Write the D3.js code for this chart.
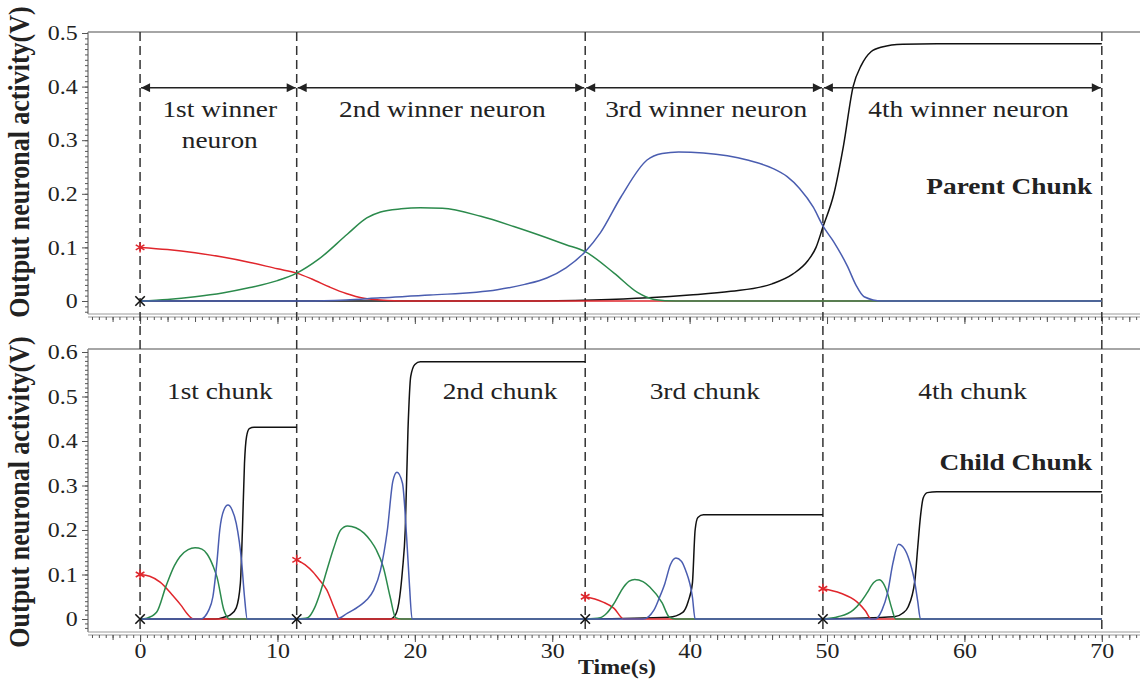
<!DOCTYPE html>
<html>
<head>
<meta charset="utf-8">
<script src="https://cdn.jsdelivr.net/npm/d3@7"></script>
<style>
	body { margin: 0; background: #fff; }
	svg text { font-family: "Liberation Serif", "Times New Roman", serif; fill: #222; }
</style>
</head>
<body>
<div id="chart"></div>
<script>
// chunk boundaries (s)
var boundaries = [0, 11.4, 32.4, 49.7, 70];

// parent chunk traces [time, volts]
var parentRed = [[0, 0.1], [2, 0.096], [4, 0.09], [6, 0.082], [8, 0.072], [10, 0.06], [11.4, 0.052], [12.5, 0.041], [13.8, 0.026], [15, 0.014], [16.3, 0.005], [18, 0.001], [20, 0], [70, 0]];
var parentGreen = [[0, 0], [2, 0.003], [4, 0.008], [6, 0.015], [8, 0.025], [10, 0.038], [11.4, 0.052], [13, 0.078], [15.1, 0.125], [16.5, 0.155], [17.5, 0.166], [19, 0.172], [20.4, 0.174], [22, 0.173], [24.8, 0.158], [27.2, 0.139], [29.6, 0.118], [31, 0.105], [32.4, 0.092], [34.5, 0.052], [36.2, 0.016], [37.4, 0.003], [39, 0], [70, 0]];
var parentBlue = [[0, 0], [12, 0], [15, 0.002], [17.5, 0.006], [21.1, 0.011], [26, 0.021], [28, 0.031], [29.6, 0.043], [31, 0.062], [32.4, 0.092], [33.5, 0.127], [35, 0.194], [36.9, 0.263], [38, 0.275], [39.2, 0.278], [41, 0.276], [44.2, 0.263], [46, 0.248], [47.1, 0.232], [48, 0.21], [49, 0.175], [49.7, 0.14], [50.5, 0.11], [51.5, 0.064], [52.1, 0.03], [52.7, 0.008], [54, 0], [70, 0]];
var parentBlack = [[0, 0], [28, 0], [33, 0.002], [37, 0.006], [40, 0.011], [43, 0.018], [46, 0.032], [47.5, 0.05], [48.6, 0.075], [49.2, 0.1], [49.7, 0.138], [50.5, 0.2], [51.2, 0.29], [51.9, 0.4], [52.5, 0.44], [53.2, 0.465], [54, 0.474], [55.5, 0.479], [58, 0.48], [70, 0.48]];

// child chunk traces, one list per chunk
var childRed = [
	[[0, 0.1], [0.7, 0.096], [1.46, 0.083], [2.4, 0.052], [3, 0.03], [3.4, 0.013], [3.9, 0], [11.4, 0]],
	[[11.4, 0.133], [12, 0.122], [12.6, 0.105], [13.1, 0.086], [13.6, 0.065], [14, 0.035], [14.2, 0.02], [14.5, 0], [32.4, 0]],
	[[32.4, 0.05], [33.1, 0.045], [33.7, 0.038], [34.5, 0.024], [35.2, 0], [49.7, 0]],
	[[49.7, 0.068], [51, 0.058], [52.2, 0.038], [52.8, 0.018], [53.2, 0], [70, 0]]
];
var childGreen = [
	[[0, 0], [0.5, 0.002], [1.2, 0.015], [1.9, 0.075], [2.5, 0.12], [2.9, 0.14], [3.5, 0.156], [4, 0.16], [4.5, 0.157], [4.9, 0.145], [5.3, 0.12], [5.6, 0.094], [6.1, 0.02], [6.5, 0], [11.4, 0]],
	[[11.4, 0], [12.2, 0.003], [12.7, 0.025], [13.1, 0.058], [13.6, 0.11], [14.1, 0.16], [14.6, 0.2], [15.1, 0.209], [15.7, 0.205], [16.3, 0.193], [16.8, 0.175], [17.2, 0.155], [17.7, 0.117], [18.2, 0.05], [18.6, 0.003], [19, 0], [32.4, 0]],
	[[32.4, 0], [33.5, 0.003], [34, 0.014], [34.5, 0.035], [35.2, 0.072], [35.6, 0.085], [36, 0.089], [36.6, 0.084], [37.1, 0.072], [38, 0.036], [38.5, 0.005], [39, 0], [49.7, 0]],
	[[49.7, 0], [50.8, 0.005], [51.9, 0.02], [52.5, 0.04], [52.9, 0.058], [53.4, 0.082], [53.8, 0.088], [54.1, 0.08], [54.4, 0.058], [54.7, 0.025], [55, 0], [70, 0]]
];
var childBlue = [
	[[0, 0], [4.4, 0], [5, 0.02], [5.3, 0.05], [5.6, 0.13], [5.8, 0.2], [6.1, 0.245], [6.4, 0.256], [6.7, 0.245], [7, 0.215], [7.4, 0.126], [7.6, 0.05], [7.8, 0], [11.4, 0]],
	[[11.4, 0], [14.3, 0], [15.1, 0.013], [16, 0.03], [16.5, 0.043], [17, 0.065], [17.5, 0.11], [18, 0.2], [18.4, 0.31], [18.7, 0.33], [19.1, 0.305], [19.4, 0.185], [19.6, 0.08], [19.8, 0], [32.4, 0]],
	[[32.4, 0], [36.6, 0], [37.4, 0.02], [37.8, 0.048], [38.2, 0.08], [38.6, 0.122], [39, 0.137], [39.4, 0.13], [39.7, 0.11], [40.2, 0.05], [40.4, 0], [49.7, 0]],
	[[49.7, 0], [53.5, 0], [54, 0.02], [54.4, 0.058], [54.8, 0.126], [55.2, 0.168], [55.5, 0.163], [55.9, 0.14], [56.4, 0.08], [56.6, 0.04], [56.8, 0], [70, 0]]
];
var childBlack = [
	[[0, 0], [5.5, 0], [6.1, 0.004], [6.6, 0.01], [7, 0.025], [7.3, 0.08], [7.45, 0.2], [7.6, 0.35], [7.75, 0.41], [7.95, 0.428], [8.3, 0.431], [11.4, 0.431]],
	[[11.4, 0], [18.2, 0], [18.6, 0.01], [18.9, 0.05], [19.1, 0.11], [19.3, 0.2], [19.5, 0.425], [19.7, 0.545], [20, 0.572], [20.4, 0.578], [32.4, 0.578]],
	[[32.4, 0], [38.5, 0.004], [39.5, 0.015], [39.9, 0.04], [40.2, 0.08], [40.4, 0.2], [40.6, 0.228], [41, 0.234], [49.7, 0.234]],
	[[49.7, 0], [54.9, 0.005], [55.5, 0.013], [55.9, 0.027], [56.4, 0.088], [56.6, 0.16], [56.8, 0.23], [57, 0.272], [57.3, 0.284], [58, 0.286], [70, 0.286]]
];

// starting values marked at each chunk start
var parentStartRed = [0.1];
var childStartRed = [0.1, 0.133, 0.05, 0.068];

// labels
var winnerLabels = [['1st winner', 'neuron'], ['2nd winner neuron'], ['3rd winner neuron'], ['4th winner neuron']];
var winnerLabelT = [5.8, 22, 41.2, 60.3];
var chunkLabels = ['1st chunk', '2nd chunk', '3rd chunk', '4th chunk'];
var chunkLabelT = [5.8, 26.2, 41.1, 60.6];
var xTickValues = [0, 10, 20, 30, 40, 50, 60, 70];
var yTopTicks = [0, 0.1, 0.2, 0.3, 0.4, 0.5];
var yBottomTicks = [0, 0.1, 0.2, 0.3, 0.4, 0.5, 0.6];

initChart();

function initChart() {
	var width = 1140;
	var height = 680;
	var stretch = 1.14;
	var colors = { red: '#e0262c', green: '#2b8a4c', blue: '#4a5db0', black: '#111' };

	var svg = d3.select('#chart')
		.append('svg')
		.attr('width', width)
		.attr('height', height);

	var xScale = d3.scaleLinear()
		.domain([-3.79, 72.78])
		.range([88, 1140]);

	var panels = [
		{ top: 32, bottom: 314, y: d3.scaleLinear().domain([0, 0.5]).range([301, 33]), ticks: yTopTicks, max: 0.5, labelY: 162 },
		{ top: 349, bottom: 632, y: d3.scaleLinear().domain([0, 0.6]).range([619, 352]), ticks: yBottomTicks, max: 0.6, labelY: 492 }
	];

	function addText(g, str, x, y, anchor, size, bold) {
		return g.append('text')
			.attr('transform', 'translate(' + x + ',' + y + ') scale(' + stretch + ',1)')
			.attr('text-anchor', anchor)
			.style('font-size', size + 'px')
			.style('font-weight', bold ? 'bold' : 'normal')
			.text(str);
	}

	// frames, axes, rulers
	panels.forEach(function(p, idx) {
		var g = svg.append('g');

		g.append('line')
			.attr('x1', 88).attr('x2', width)
			.attr('y1', p.top).attr('y2', p.top)
			.attr('stroke', '#888').attr('stroke-width', 1.5);

		g.append('line')
			.attr('x1', 88).attr('x2', 88)
			.attr('y1', p.top).attr('y2', p.bottom)
			.attr('stroke', '#888').attr('stroke-width', 1.5);

		[p.bottom, p.bottom + 3].forEach(function(yy) {
			g.append('line')
				.attr('x1', 88).attr('x2', width)
				.attr('y1', yy).attr('y2', yy)
				.attr('stroke', '#999').attr('stroke-width', 1.2);
		});

		// x ruler
		var minor = g.append('g')
			.attr('transform', 'translate(0,' + (p.bottom + 3) + ')')
			.call(d3.axisBottom(xScale).tickValues(d3.range(-3.5, 72.6, 0.5)).tickSize(3).tickFormat(''));
		var medium = g.append('g')
			.attr('transform', 'translate(0,' + (p.bottom + 3) + ')')
			.call(d3.axisBottom(xScale).tickValues(d3.range(-2, 72.6, 2)).tickSize(5).tickFormat(''));
		var major = g.append('g')
			.attr('transform', 'translate(0,' + (p.bottom + 3) + ')')
			.call(d3.axisBottom(xScale).tickValues(xTickValues).tickSize(7).tickFormat(idx === 1 ? d3.format('d') : ''));

		[minor, medium, major].forEach(function(a) {
			a.select('.domain').remove();
			a.selectAll('line').attr('stroke', '#555');
		});

		major.selectAll('text')
			.attr('dy', null)
			.attr('y', 23)
			.attr('transform', 'scale(' + stretch + ',1)')
			.style('font-size', '21px')
			.style('font-family', '"Liberation Serif", serif')
			.attr('fill', '#222');

		// y axis
		var yMinor = g.append('g')
			.attr('transform', 'translate(88,0)')
			.call(d3.axisLeft(p.y).tickValues(d3.range(-0.02, p.max + 0.001, 0.01)).tickSize(3).tickFormat(''));
		var yMajor = g.append('g')
			.attr('transform', 'translate(88,0)')
			.call(d3.axisLeft(p.y).tickValues(p.ticks).tickSize(6).tickPadding(3)
				.tickFormat(function(d) { return d === 0 ? '0' : d3.format('.1f')(d); }));

		[yMinor, yMajor].forEach(function(a) {
			a.select('.domain').remove();
			a.selectAll('line').attr('stroke', '#555');
		});

		yMajor.selectAll('text')
			.attr('transform', 'scale(' + stretch + ',1)')
			.style('font-size', '21px')
			.style('font-family', '"Liberation Serif", serif')
			.attr('fill', '#222');

		// y title
		g.append('text')
			.attr('transform', 'translate(29,' + p.labelY + ') rotate(-90) scale(1,' + stretch + ')')
			.attr('text-anchor', 'middle')
			.style('font-size', '26px')
			.style('font-weight', 'bold')
			.text('Output neuronal activity(V)');
	});

	// x title
	addText(svg, 'Time(s)', 617, 674, 'middle', 21, true);

	// chunk boundaries
	svg.selectAll('.boundary')
		.data(boundaries)
		.enter()
		.append('line')
		.attr('class', 'boundary')
		.attr('x1', function(d) { return xScale(d); })
		.attr('x2', function(d) { return xScale(d); })
		.attr('y1', 32)
		.attr('y2', 632)
		.attr('stroke', '#333')
		.attr('stroke-width', 1.5)
		.attr('stroke-dasharray', '9,5');

	var top = panels[0];
	var bottom = panels[1];

	function lineFor(yScale) {
		return d3.line()
			.x(function(d) { return xScale(d[0]); })
			.y(function(d) { return yScale(d[1]); })
			.curve(d3.curveMonotoneX);
	}

	// parent traces
	var topLine = lineFor(top.y);
	[[parentBlack, colors.black], [parentRed, colors.red], [parentGreen, colors.green], [parentBlue, colors.blue]].forEach(function(s) {
		svg.append('path')
			.attr('d', topLine(s[0]))
			.attr('fill', 'none')
			.attr('stroke', s[1])
			.attr('stroke-width', 1.5);
	});

	// child traces
	var bottomLine = lineFor(bottom.y);
	[[childBlack, colors.black], [childRed, colors.red], [childGreen, colors.green], [childBlue, colors.blue]].forEach(function(s) {
		s[0].forEach(function(chunk) {
			svg.append('path')
				.attr('d', bottomLine(chunk))
				.attr('fill', 'none')
				.attr('stroke', s[1])
				.attr('stroke-width', 1.5);
		});
	});

	// start markers
	var asterisk = d3.symbol().type(d3.symbolAsterisk || d3.symbolCross).size(70);
	var times = d3.symbol().type(d3.symbolTimes || d3.symbolCross).size(60);

	function markers(starts, values, yScale) {
		starts.forEach(function(t, i) {
			svg.append('path')
				.attr('d', asterisk())
				.attr('transform', 'translate(' + xScale(t) + ',' + yScale(values[i]) + ')')
				.attr('fill', 'none')
				.attr('stroke', colors.red)
				.attr('stroke-width', 1.5);
			svg.append('path')
				.attr('d', times())
				.attr('transform', 'translate(' + xScale(t) + ',' + yScale(0) + ')')
				.attr('fill', 'none')
				.attr('stroke', colors.black)
				.attr('stroke-width', 1.6);
		});
	}

	markers([boundaries[0]], parentStartRed, top.y);
	markers(boundaries.slice(0, 4), childStartRed, bottom.y);

	// winner arrows
	var defs = svg.append('defs');
	defs.append('marker')
		.attr('id', 'arrow')
		.attr('viewBox', '0 0 10 10')
		.attr('refX', 10)
		.attr('refY', 5)
		.attr('markerWidth', 12)
		.attr('markerHeight', 9)
		.attr('markerUnits', 'userSpaceOnUse')
		.attr('orient', 'auto-start-reverse')
		.append('path')
		.attr('d', 'M0,0L10,5L0,10z')
		.attr('fill', '#222');

	var arrowY = top.y(0.398);
	for (var i = 0; i < 4; i++) {
		svg.append('line')
			.attr('x1', xScale(boundaries[i]) + 1)
			.attr('x2', xScale(boundaries[i + 1]) - 1)
			.attr('y1', arrowY)
			.attr('y2', arrowY)
			.attr('stroke', '#222')
			.attr('stroke-width', 1.5)
			.attr('marker-start', 'url(#arrow)')
			.attr('marker-end', 'url(#arrow)');

		winnerLabels[i].forEach(function(str, k) {
			addText(svg, str, xScale(winnerLabelT[i]), top.y(0.343) + k * 31, 'middle', 24, false);
		});

		addText(svg, chunkLabels[i], xScale(chunkLabelT[i]), bottom.y(0.495), 'middle', 24, false);
	}

	addText(svg, 'Parent Chunk', xScale(69.3), top.y(0.2), 'end', 24, true);
	addText(svg, 'Child Chunk', xScale(69.3), bottom.y(0.335), 'end', 24, true);
}
</script>
</body>
</html>
